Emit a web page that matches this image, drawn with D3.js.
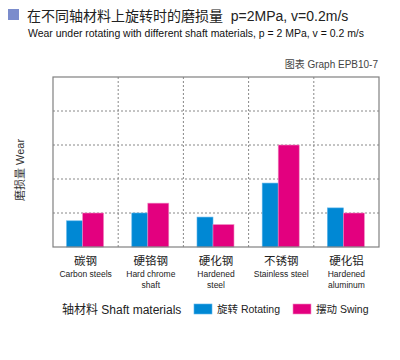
<!DOCTYPE html>
<html>
<head>
<meta charset="utf-8">
<script src="https://cdn.jsdelivr.net/npm/d3@7"></script>
<style>
body { margin: 0; background: #fff; }
text { font-family: "Liberation Sans", "Noto Sans CJK SC", sans-serif; }
</style>
</head>
<body>
<div id="chart"></div>
<script>
var categoriesZh = ['碳钢', '硬铬钢', '硬化钢', '不锈钢', '硬化铝']
var categoriesEn = [['Carbon steels'], ['Hard chrome', 'shaft'], ['Hardened', 'steel'], ['Stainless steel'], ['Hardened', 'aluminum']]
var rotating = [0.77, 1.0, 0.88, 1.88, 1.15]
var swing = [1.0, 1.29, 0.66, 3.0, 1.0]
var yTicks = [0, 1, 2, 3, 4, 5]

var W = 400, H = 360
var m = { left: 53, right: 21, top: 77, bottom: 113 }
var blue = '#0088d4', pink = '#e3007f'

var svg = d3.select('#chart').append('svg').attr('width', W).attr('height', H)

// title
svg.append('rect').attr('x', 8).attr('y', 9).attr('width', 11).attr('height', 11).attr('fill', '#7b8ccc')
svg.append('text').attr('x', 27).attr('y', 21).attr('font-size', 14).attr('fill', '#222')
	.style('white-space', 'pre')
	.text('在不同轴材料上旋转时的磨损量  p=2MPa, v=0.2m/s')
svg.append('text').attr('x', 28).attr('y', 37).attr('font-size', 10).attr('fill', '#111')
	.attr('textLength', 336).attr('lengthAdjust', 'spacingAndGlyphs')
	.text('Wear under rotating with different shaft materials, p = 2 MPa, v = 0.2 m/s')
svg.append('text').attr('x', 378).attr('y', 68).attr('font-size', 10).attr('fill', '#444')
	.attr('text-anchor', 'end').text('图表 Graph EPB10-7')

var x = d3.scaleBand().domain(d3.range(categoriesZh.length)).range([m.left, W - m.right])
var y = d3.scaleLinear().domain([0, 5]).range([H - m.bottom, m.top])

var g = svg.append('g')
// grid
g.selectAll('.hg').data(yTicks.slice(1, -1)).enter().append('line')
	.attr('x1', m.left).attr('x2', W - m.right)
	.attr('y1', function(d) { return y(d) }).attr('y2', function(d) { return y(d) })
	.attr('stroke', '#888').attr('stroke-dasharray', '2,2')
g.selectAll('.vg').data(d3.range(1, categoriesZh.length)).enter().append('line')
	.attr('x1', function(d) { return x(d) }).attr('x2', function(d) { return x(d) })
	.attr('y1', m.top).attr('y2', H - m.bottom)
	.attr('stroke', '#888').attr('stroke-dasharray', '2,2')

// bars
var bw1 = 16, bw2 = 21
g.selectAll('.rot').data(rotating).enter().append('rect')
	.attr('x', function(d, i) { return x(i) + x.bandwidth() / 2 - 19 })
	.attr('y', function(d) { return y(d) })
	.attr('width', bw1).attr('height', function(d) { return y(0) - y(d) })
	.attr('fill', blue).attr('stroke', '#5ab4ea').attr('stroke-width', 0.6)
g.selectAll('.swg').data(swing).enter().append('rect')
	.attr('x', function(d, i) { return x(i) + x.bandwidth() / 2 - 3 })
	.attr('y', function(d) { return y(d) })
	.attr('width', bw2).attr('height', function(d) { return y(0) - y(d) })
	.attr('fill', pink).attr('stroke', '#f08cc4').attr('stroke-width', 0.6)

// frame
g.append('rect').attr('x', m.left).attr('y', m.top)
	.attr('width', W - m.left - m.right).attr('height', H - m.top - m.bottom)
	.attr('fill', 'none').attr('stroke', '#808080').attr('stroke-width', 1.2)

// y label
svg.append('text').attr('transform', 'translate(24,170) rotate(-90)')
	.attr('text-anchor', 'middle').attr('font-size', 11).attr('fill', '#333').text('磨损量 Wear')

// category labels
var cl = svg.selectAll('.cat').data(categoriesZh).enter().append('g')
	.attr('transform', function(d, i) { return 'translate(' + (x(i) + x.bandwidth() / 2) + ',0)' })
cl.append('text').attr('y', 265).attr('text-anchor', 'middle').attr('font-size', 11.5).attr('fill', '#222')
	.text(function(d) { return d })
cl.each(function(d, i) {
	var s = d3.select(this)
	categoriesEn[i].forEach(function(t, j) {
		s.append('text').attr('y', 277 + j * 11).attr('text-anchor', 'middle')
			.attr('font-size', 8.5).attr('fill', '#222').text(t)
	})
})

// legend
svg.append('text').attr('x', 62).attr('y', 314).attr('font-size', 12).attr('fill', '#222').text('轴材料 Shaft materials')
var leg = [{ c: blue, s: '#5ab4ea', t: '旋转 Rotating', x: 194 }, { c: pink, s: '#f08cc4', t: '摆动 Swing', x: 293 }]
var lg = svg.selectAll('.leg').data(leg).enter().append('g')
lg.append('rect').attr('x', function(d) { return d.x }).attr('y', 304).attr('width', 18).attr('height', 10)
	.attr('fill', function(d) { return d.c }).attr('stroke', function(d) { return d.s }).attr('stroke-width', 0.6)
lg.append('text').attr('x', function(d) { return d.x + 23 }).attr('y', 313).attr('font-size', 10.5).attr('fill', '#222')
	.text(function(d) { return d.t })
</script>
</body>
</html>
